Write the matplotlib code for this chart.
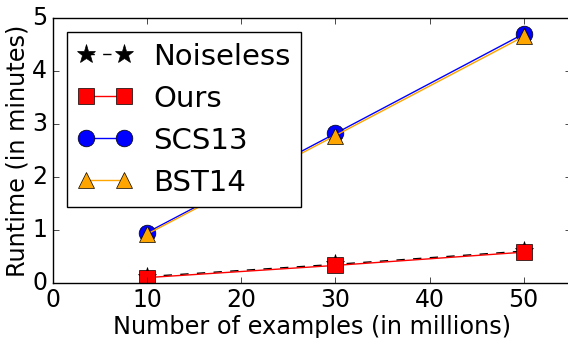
import matplotlib
matplotlib.use("Agg")
import matplotlib.pyplot as plt

# data
examples = [10, 30, 50]
noiseless = [0.12, 0.35, 0.60]
ours = [0.10, 0.33, 0.58]
scs13 = [0.95, 2.82, 4.70]
bst14 = [0.92, 2.78, 4.65]


def main() -> None:
    plt.style.use("classic")
    plt.rcParams["font.family"] = ["DejaVu Sans"]

    fig = plt.figure(figsize=(5.68, 3.38), dpi=100)
    ax = fig.add_axes([0.093, 0.163, 0.912, 0.784])

    ax.plot(examples, noiseless, "k*--", markersize=14, label="Noiseless")
    ax.plot(examples, ours, "s-", color="red", markersize=12, label="Ours")
    ax.plot(examples, scs13, "o-", color="blue", markersize=12, label="SCS13")
    ax.plot(examples, bst14, "^-", color="orange", markersize=12, label="BST14")

    ax.set_xlim(0, 55)
    ax.set_ylim(0, 5)
    ax.set_xticks([0, 10, 20, 30, 40, 50])
    ax.set_yticks([0, 1, 2, 3, 4, 5])
    ax.tick_params(labelsize=17)
    ax.set_xlabel("Number of examples (in millions)", fontsize=17.3, labelpad=2)
    ax.set_ylabel("Runtime (in minutes)", fontsize=17.3, labelpad=2)

    ax.legend(loc="upper left", numpoints=2, fontsize=21, frameon=True,
              handlelength=1.9, handletextpad=0.7, labelspacing=0.48,
              borderpad=0.35)

    fig.savefig("out.png", dpi=100)
    plt.close(fig)


if __name__ == "__main__":
    main()
